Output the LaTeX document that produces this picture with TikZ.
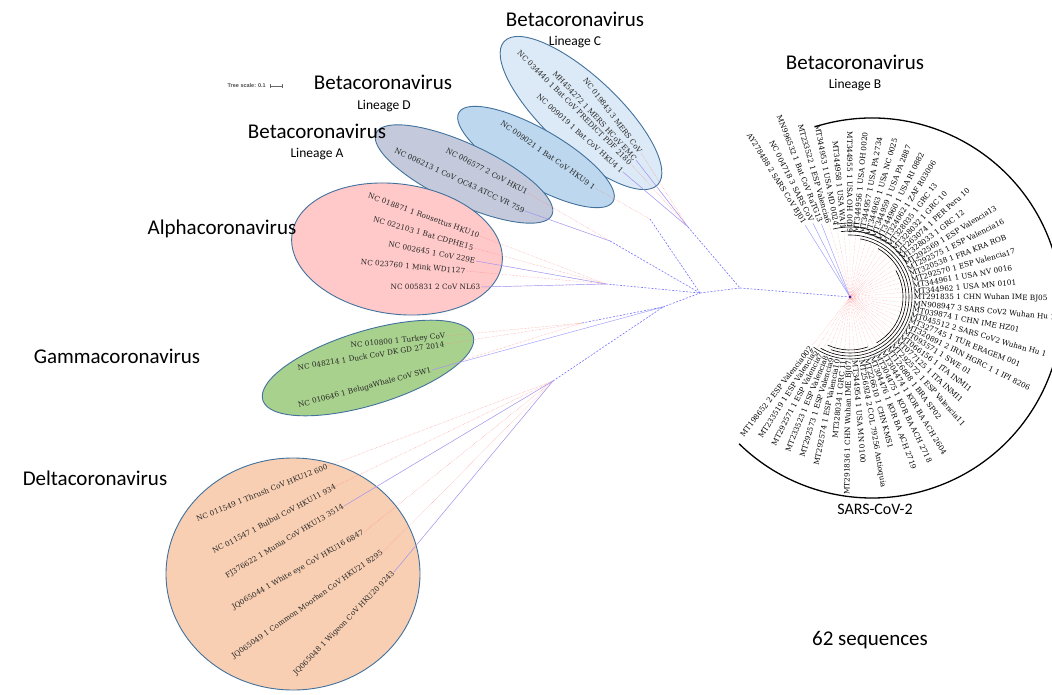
\documentclass[tikz,border=0pt]{standalone}
\usepackage{fontspec}
\setmainfont{DejaVu Serif}
\newfontfamily\carl{Carlito}
\newfontfamily\lsans{Liberation Sans}
\definecolor{edgeb}{HTML}{41719C}
\definecolor{fillC}{HTML}{DCE9F6}
\definecolor{fillD}{HTML}{BDD7EE}
\definecolor{fillA}{HTML}{C4CADB}
\definecolor{fillAl}{HTML}{FFC9C9}
\definecolor{fillG}{HTML}{A9D18E}
\definecolor{fillDe}{HTML}{F8CFB3}
\begin{document}
\begin{tikzpicture}[x=1pt,y=1pt,
  ell/.style={draw=edgeb,line width=0.9pt},
  leafline/.style={draw=red!50,line width=0.4pt,densely dotted},
  bluel/.style={draw=blue!40,line width=0.45pt},
  branch/.style={draw=blue!55,line width=0.6pt,dash pattern=on 2pt off 1.5pt},
  lbl/.style={font=\fontsize{7.3}{8}\selectfont,inner sep=0.6pt,text=black!85},
  slbl/.style={font=\fontsize{7.3}{8}\selectfont,inner sep=0.6pt,text=black},
  big/.style={font=\carl\fontsize{21}{25}\selectfont,inner sep=0pt},
  sub/.style={font=\carl\fontsize{13.5}{16}\selectfont,inner sep=0pt},
  ring/.style={draw=black,line width=0.6pt}]
\useasboundingbox (0,0) rectangle (1052,-694);
\clip (0,0) rectangle (1052,-694);

% ---------- ellipses ----------
\draw[ell,fill=fillC,rotate around={-43:(581,-113)}] (581,-113) ellipse [x radius=105,y radius=37];
\draw[ell,fill=fillD,rotate around={-30:(536,-157)}] (536,-157) ellipse [x radius=89,y radius=28];
\draw[ell,fill=fillA,rotate around={-25:(464,-174)}] (464,-174) ellipse [x radius=97,y radius=30];
\draw[ell,fill=fillAl,rotate around={-8:(397,-249)}] (397,-249) ellipse [x radius=106,y radius=65];
\draw[ell,fill=fillG,rotate around={17:(368,-368)}] (368,-368) ellipse [x radius=110,y radius=37];
\draw[ell,fill=fillDe] (293,-574) ellipse [x radius=127,y radius=116];

% ---------- tree nodes ----------
\coordinate (R) at (850,-297);
\coordinate (B1) at (740,-288);
\coordinate (CN) at (688,-227);
\coordinate (B2) at (700,-293);
\coordinate (DN2) at (650,-219);
\coordinate (AN) at (610,-241);
\coordinate (AL) at (606,-284);
\coordinate (GD) at (663,-307);
\coordinate (GN) at (582,-323);
\coordinate (DN) at (553,-381);

% ---------- leaf labels (left clades) ----------
\node[lbl,anchor=east,rotate=-53] (c1) at (641,-153) {NC 019843 3 MERS CoV};
\node[lbl,anchor=east,rotate=-47] (c2) at (636,-160) {MH454272 1 MERS HCoV EMC};
\node[lbl,anchor=east,rotate=-45] (c3) at (631,-164) {NC 034440 1 Bat CoV PREDICT PDF 2180};
\node[lbl,anchor=east,rotate=-42] (c4) at (623,-172) {NC 009019 1 Bat CoV HKU4 1};
\node[lbl,anchor=east,rotate=-35] (d1) at (595,-188) {NC 009021 1 Bat CoV HKU9 1};
\node[lbl,anchor=east,rotate=-28] (a1) at (528,-193) {NC 006577 2 CoV HKU1};
\node[lbl,anchor=east,rotate=-25] (a2) at (525,-211) {NC 006213 1 CoV OC43 ATCC VR 759};
\node[lbl,anchor=east,rotate=-20] (al1) at (480,-236) {NC 018871 1 Rousettus HKU10};
\node[lbl,anchor=east,rotate=-16] (al2) at (474,-248) {NC 022103 1 Bat CDPHE15};
\node[lbl,anchor=east,rotate=-11] (al3) at (476,-261) {NC 002645 1 CoV 229E};
\node[lbl,anchor=east,rotate=-5] (al4) at (466,-271) {NC 023760 1 Mink WD1127};
\node[lbl,anchor=east,rotate=0] (al5) at (481,-287) {NC 005831 2 CoV NL63};
\node[lbl,anchor=east,rotate=6] (g1) at (446,-336) {NC 010800 1 Turkey CoV};
\node[lbl,anchor=east,rotate=9] (g2) at (445,-344) {NC 048214 1 Duck CoV DK GD 27 2014};
\node[lbl,anchor=east,rotate=15] (g3) at (432,-370) {NC 010646 1 BelugaWhale CoV SW1};
\node[lbl,anchor=east,rotate=22] (de1) at (328,-466) {NC 011549 1 Thrush CoV HKU12 600};
\node[lbl,anchor=east,rotate=28] (de2) at (336,-486) {NC 011547 1 Bulbul CoV HKU11 934};
\node[lbl,anchor=east,rotate=31] (de3) at (344,-506) {FJ376622 1 Munia CoV HKU13 3514};
\node[lbl,anchor=east,rotate=30] (de4) at (364,-532) {JQ065044 1 White eye CoV HKU16 6847};
\node[lbl,anchor=east,rotate=35] (de5) at (383,-552) {JQ065049 1 Common Moorhen CoV HKU21 8295};
\node[lbl,anchor=east,rotate=46] (de6) at (394,-572) {JQ065048 1 Wigeon CoV HKU20 9243};

% ---------- leaf branches ----------
\foreach \n in {c1,c2,c3,c4} \draw[leafline] (\n.east) -- (CN);
\draw[leafline] (d1.east) -- (DN2);
\foreach \n in {a1,a2} \draw[leafline] (\n.east) -- (AN);
\foreach \n in {al1,al2,al3,al4,al5} \draw[leafline] (\n.east) -- (AL);
\foreach \n in {g1,g2,g3} \draw[leafline] (\n.east) -- (GN);
\foreach \n in {de1,de2,de3,de4,de5,de6} \draw[leafline] (\n.east) -- (DN);
\foreach \n in {c2,c4} \draw[bluel] (\n.east) -- (CN);
\draw[bluel] (a2.east) -- (AN);
\foreach \n in {al3,al5} \draw[bluel] (\n.east) -- (AL);
\draw[bluel] (g3.east) -- (GD);
\foreach \n in {de3,de6} \draw[bluel] (\n.east) -- (DN);

% ---------- internal branches ----------
\draw[branch] (CN) -- (B1);
\draw[branch] (DN2) -- (B2);
\draw[branch] (AN) -- (B2);
\draw[branch] (AL) -- (B2);
\draw[branch] (GN) -- (GD);
\draw[branch] (DN) -- (GD);
\draw[branch] (GD) -- (B2);
\draw[branch] (B2) -- (B1);
\draw[branch] (B1) -- (R);

% ---------- SARS-CoV-2 fan ----------
\foreach \lab [count=\i] in {AY278488 2 SARS CoV BJ01,NC 004718 3 SARS CoV,MN996532 1 Bat CoV RaTG13,MT233522 1 ESP Valencia6,MT344953 1 USA MD 0024,MT344958 1 USA WA 1,MT344955 1 USA OH 0019,MT344956 1 USA OH 0020,MT344957 1 USA PA 2734,MT344963 1 USA NC 0025,MT344959 1 USA PA 2887,MT344960 1 USA RI 0882,MT324062 1 ZAF R03006,MT328035 1 GRC 13,MT328032 1 GRC 10,MT263074 1 PER Peru 10,MT328033 1 GRC 12,MT292569 1 ESP Valencia13,MT292575 1 ESP Valencia16,MT320538 1 FRA KRA ROB,MT292570 1 ESP Valencia17,MT344961 1 USA NV 0016,MT344962 1 USA MN 0101,MT291835 1 CHN Wuhan IME BJ05,MN908947 3 SARS CoV2 Wuhan Hu 1,MT039874 1 CHN IME HZ01,MT045512 2 SARS CoV2 Wuhan Hu 1,MT327745 1 TUR ERAGEM 001,MT320891 2 IRN HGRC 1 1 IPI 8206,MT093571 1 SWE 01,MT066156 1 ITA INMI1,MT077125 1 ITA INMI1,MT292572 1 ESP Valencia11,MT126808 1 BRA SP02,MT304474 1 KOR BA ACH 2604,MT304475 1 KOR BA ACH 2718,MT304476 1 KOR BA ACH 2719,MT226610 1 CHN KMS1,MT256924 2 COL 79256 Antioquia,MT344954 1 USA MN 0100,MT291836 1 CHN Wuhan IME BJ07,MT328034 1 GRC 11,MT292574 1 ESP Valencia10,MT292573 1 ESP Valencia9,MT233523 1 ESP Valencia8,MT292571 1 ESP Valencia7,MT233519 1 ESP Valencia5,MT198652 2 ESP Valencia002}{
  \pgfmathsetmacro\ang{122-(\i-1)*250/47}
  \pgfmathsetmacro\rr{\i==1 ? 86 : (\i==2 ? 84 : (\i==3 ? 80 : (\i==4 ? 76 : (\i==5 ? 72 : (\i==6 ? 68 : 63)))))}
  \pgfmathsetmacro\rl{\rr-1.5}
  \pgfmathtruncatemacro\rside{and(\ang<90,\ang>-90)}
  \ifnum\i<4
    \draw[bluel] (R) -- ([shift={(\ang:\rl)}]R);
  \else
    \draw[leafline,draw=red!45,line width=0.3pt] (R) -- ([shift={(\ang:\rl)}]R);
  \fi
  \ifnum\rside=1
    \node[slbl,anchor=west,rotate=\ang] (s\i) at ([shift={(\ang:\rr)}]R) {\lab};
  \else
    \pgfmathsetmacro\angb{\ang+180}
    \node[slbl,anchor=east,rotate=\angb] (s\i) at ([shift={(\ang:\rr)}]R) {\lab};
  \fi
}
\fill[blue!70!black] (R) circle (1.2);

% inner clade arcs
\draw[ring] ([shift={(100:74)}]R) arc[start angle=100,end angle=84,radius=74];
\draw[ring] ([shift={(104:70)}]R) arc[start angle=104,end angle=60,radius=70];
\draw[ring] ([shift={(98:66)}]R) arc[start angle=98,end angle=30,radius=66];
\draw[ring] ([shift={(92:62)}]R) arc[start angle=92,end angle=-126,radius=62];
\draw[ring] ([shift={(80:59)}]R) arc[start angle=80,end angle=-120,radius=59];
\draw[ring] ([shift={(60:56)}]R) arc[start angle=60,end angle=-110,radius=56];
\draw[ring] ([shift={(30:53)}]R) arc[start angle=30,end angle=-60,radius=53];
\draw[ring] ([shift={(-70:53)}]R) arc[start angle=-70,end angle=-115,radius=53];

% outer SARS-CoV-2 arc
\coordinate (OC) at (872,-308);
\draw[line width=1.3pt] ([shift={(107.6:190)}]OC) arc[start angle=107.6,end angle=-134.4,radius=190];

% ---------- titles ----------
\node[big] (tC) at (575,-19) {Betacoronavirus};
\node[sub] (lC) at (575,-42) {Lineage C};
\node[big] (tD) at (383,-82) {Betacoronavirus};
\node[sub] (lD) at (384,-106) {Lineage D};
\node[big] (tA) at (317,-131) {Betacoronavirus};
\node[sub] (lA) at (317,-154) {Lineage A};
\node[big] (tAl) at (222,-229) {Alphacoronavirus};
\node[big] (tG) at (117,-356) {Gammacoronavirus};
\node[big] (tDe) at (95,-478) {Deltacoronavirus};
\node[big] (tB) at (855,-62) {Betacoronavirus};
\node[sub] (lB) at (855,-85) {Lineage B};
\node[font=\carl\fontsize{16}{19}\selectfont,inner sep=0pt] (tS) at (875,-509) {SARS-CoV-2};
\node[big] (tN) at (870,-640) {62 sequences};

% tree scale
\node[font=\lsans\bfseries\fontsize{5.5}{6}\selectfont,text=black!70,anchor=east,inner sep=0pt] (ts) at (266,-86) {Tree scale: 0.1};
\coordinate (tsa) at (270,-86);
\coordinate (tsb) at (282,-86);
\draw[black!60,line width=0.6pt] (tsa) -- (tsb);
\draw[black!60,line width=0.6pt] ([yshift=1.6pt]tsa) -- ([yshift=-1.6pt]tsa);
\draw[black!60,line width=0.6pt] ([yshift=1.6pt]tsb) -- ([yshift=-1.6pt]tsb);
\end{tikzpicture}
\end{document}
